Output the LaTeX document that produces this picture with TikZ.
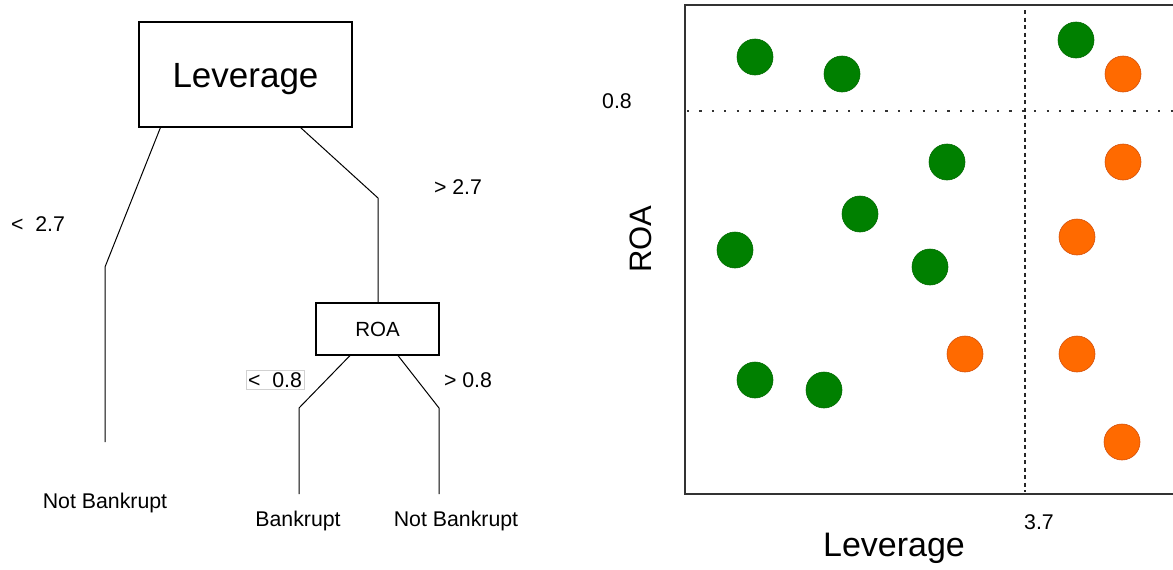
\documentclass[tikz,border=0pt]{standalone}
\usepackage{fontspec}
\setmainfont{Liberation Sans}
\usetikzlibrary{calc}
\definecolor{ptgreen}{HTML}{008000}
\definecolor{ptgreenedge}{HTML}{006A00}
\definecolor{ptorange}{HTML}{FF6A00}
\definecolor{ptorangeedge}{HTML}{D4500A}
\definecolor{framegray}{HTML}{333333}
\begin{document}
\begin{tikzpicture}[x=1pt,y=-1pt,
  splitbox/.style={draw=black,line width=1.1pt,fill=white,inner sep=0pt,minimum width=#1},
  branch/.style={line width=1pt,black},
  lbl/.style={font=\fontsize{21.3}{25}\selectfont,inner sep=1pt},
  goodpt/.style={circle,fill=ptgreen,draw=ptgreenedge,line width=0.6pt,minimum size=36pt,inner sep=0pt},
  badpt/.style={circle,fill=ptorange,draw=ptorangeedge,line width=0.6pt,minimum size=36pt,inner sep=0pt},
  axisline/.style={line width=1.8pt,framegray}]
\useasboundingbox (0,0) rectangle (1173,570);

% ---------------- decision tree ----------------
\node[splitbox=213pt,minimum height=105pt,font=\fontsize{35}{40}\selectfont,
      text height=25pt,text depth=0pt] (lev) at (245.5,74.5) {Leverage};
\node[splitbox=123pt,minimum height=52pt,font=\fontsize{20.5}{24}\selectfont] (roa) at (377.5,329) {ROA};

\node[lbl] (lt27) at (38,224) {<~ 2.7};
\node[lbl] (gt27) at (458,187) {> 2.7};
\node[lbl,draw=black!18,line width=0.6pt,inner sep=2pt] (lt08) at (275,380) {<~ 0.8};
\node[lbl] (gt08) at (468,380) {> 0.8};

\node[lbl] (leafA) at (105,503) {Not Bankrupt};
\node[lbl] (leafB) at (298,521) {Bankrupt};
\node[lbl] (leafC) at (456,521) {Not Bankrupt};

\coordinate (endA) at (105,442);
\coordinate (endB) at (299,494);
\coordinate (endC) at (439,494);
\draw[branch] ([xshift=22pt]lev.south west) -- (105,267) -- (endA);
\draw[branch] ([xshift=-52pt]lev.south east) -- (378,198) -- (roa.north -| 378,0);
\draw[branch] ([xshift=-27.5pt]roa.south) -- (299,408) -- (endB);
\draw[branch] ([xshift=20.5pt]roa.south) -- (439,408) -- (endC);

% ---------------- scatter plot ----------------
\begin{scope}
\clip (600,0) rectangle (1173,570);
\draw[axisline] (1180,5) -- (685,5) -- (685,494) -- (1180,494);
\draw[line width=2.4pt,black!80,dash pattern=on 2.2pt off 10.2pt] (687,111) -- (1180,111);
\draw[line width=1.4pt,black!85,dash pattern=on 4pt off 3.5pt] (1025,10) -- (1025,492);
\end{scope}

\node[lbl] (yv) at (617,101) {0.8};
\node[lbl] (xv) at (1039,522) {3.7};
\node[font=\fontsize{31}{36}\selectfont,rotate=90] (ylab) at (641,239) {ROA};
\node[font=\fontsize{34}{40}\selectfont] (xlab) at (894,548) {Leverage};

\foreach \n/\px/\py in {g1/755/57, g2/842/74, g3/1076/40, g4/947/162, g5/860/214,
                         g6/735/250, g7/930/267, g8/755/380, g9/824/390}
  \node[goodpt] (\n) at (\px,\py) {};
\foreach \n/\px/\py in {o1/1123/74, o2/1123/162, o3/1077/237, o4/965/354,
                         o5/1077/354, o6/1122/442}
  \node[badpt] (\n) at (\px,\py) {};
\end{tikzpicture}
\end{document}
